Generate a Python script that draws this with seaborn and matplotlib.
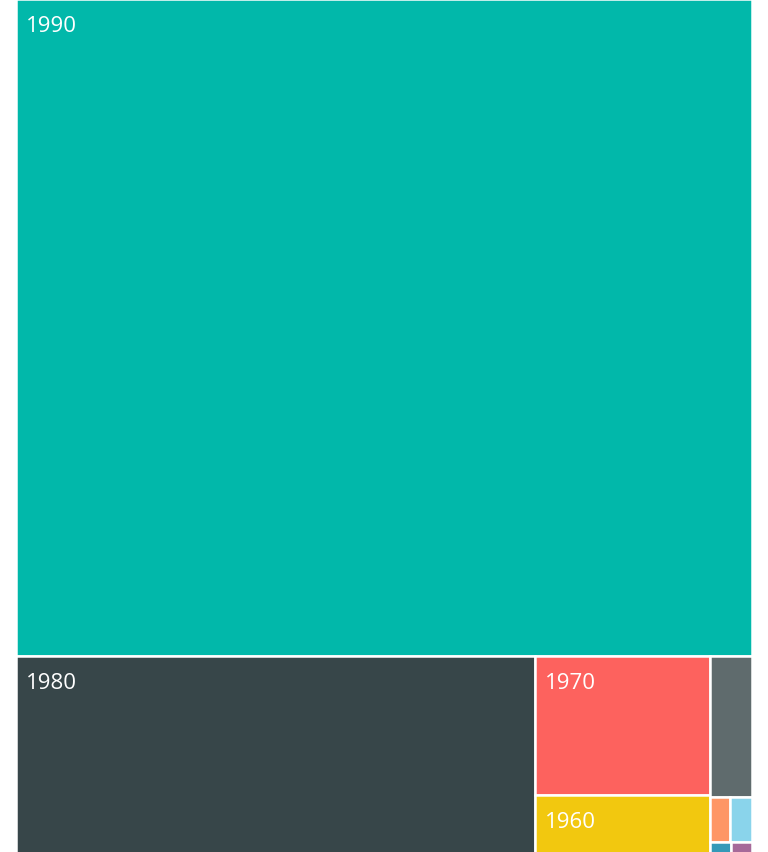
import matplotlib
matplotlib.use("Agg")
import matplotlib.pyplot as plt
import seaborn as sns
from matplotlib.patches import Rectangle

# Datos: décadas y su valor (tamaño del rectángulo)
decadas = ["1990", "1980", "1970", "1960", "2000", "1950", "1940", "1930", "1920"]
valores = [482, 129, 24.2, 19.3, 5.9, 0.9, 0.95, 1.35, 1.35]
colores = ["#01B8AA", "#374649", "#FD625E", "#F2C80F", "#5F6B6D",
           "#FE9666", "#8AD4EB", "#3599B8", "#A66999"]

val = dict(zip(decadas, valores))
col = dict(zip(decadas, colores))

# Estructura del treemap: ("v" apila en filas, "h" pone en columnas)
estructura = ("v", ["1990",
                    ("h", ["1980",
                           ("v", ["1970", "1960"]),
                           ("v", ["2000",
                                  ("v", [("h", ["1950", "1940"]),
                                         ("h", ["1930", "1920"])])])])])


def total(nodo):
    if isinstance(nodo, str):
        return val[nodo]
    return sum(total(n) for n in nodo[1])


def layout(nodo, x, y, w, h, out):
    if isinstance(nodo, str):
        out.append((nodo, x, y, w, h))
        return
    direc, hijos = nodo
    t = total(nodo)
    pos = 0
    for hijo in hijos:
        f = total(hijo) / t
        if direc == "v":
            layout(hijo, x, y + pos * h, w, f * h, out)
        else:
            layout(hijo, x + pos * w, y, f * w, h, out)
        pos += f


sns.set_style("white")
fig = plt.figure(figsize=(7.68, 8.53), dpi=100)
ax = fig.add_axes([0, 0, 1, 1])
ax.set_xlim(0, 768)
ax.set_ylim(853, 0)
ax.axis("off")

rects = []
layout(estructura, 16, 0, 736, 907, rects)

for nombre, x, y, w, h in rects:
    ax.add_patch(Rectangle((x, y), w, h, facecolor=col[nombre],
                           edgecolor="white", linewidth=1.8))
    if w > 80 and h > 40:
        ax.text(x + 10, y + 16, nombre, color="white", fontsize=16,
                family="Open Sans", va="top", ha="left")

fig.savefig("out.png", dpi=100)
